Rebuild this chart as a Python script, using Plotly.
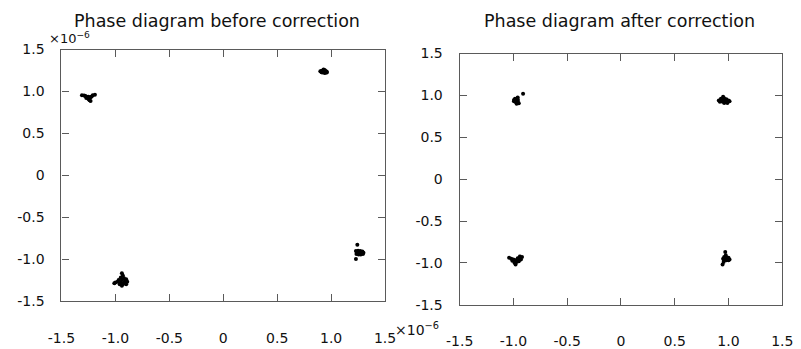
import plotly.graph_objects as go

# Constellation points before correction (units of 1e-6)
before_x = [
    # upper-left cluster
    -1.31, -1.29, -1.28, -1.27, -1.26, -1.25, -1.24, -1.23, -1.22, -1.19, -1.27, -1.25, -1.24, -1.23, -1.21,
    # upper-right cluster
    0.90, 0.91, 0.92, 0.94, 0.95, 0.96, 0.94, 0.92, 0.93, 0.95, 0.91, 0.93, 0.96,
    # lower-left cluster
    -0.94, -0.93, -0.95, -0.92, -0.90, -0.97, -0.94, -0.91, -1.00, -0.98, -0.95, -0.92, -0.89,
    -1.01, -0.96, -0.93, -0.90, -0.94,
    # lower-right cluster
    1.243, 1.23, 1.23, 1.25, 1.27, 1.29, 1.24, 1.26, 1.28, 1.30, 1.235, 1.255, 1.275, 1.295,
]
before_y = [
    0.955, 0.95, 0.945, 0.94, 0.93, 0.935, 0.92, 0.93, 0.94, 0.96, 0.92, 0.91, 0.895, 0.885, 0.955,
    1.24, 1.23, 1.25, 1.255, 1.245, 1.235, 1.22, 1.225, 1.235, 1.225, 1.245, 1.26, 1.225,
    -1.17, -1.20, -1.22, -1.23, -1.24, -1.25, -1.25, -1.26, -1.28, -1.27, -1.28, -1.28, -1.27,
    -1.29, -1.30, -1.30, -1.30, -1.32,
    -0.83, -1.00, -0.905, -0.90, -0.905, -0.91, -0.925, -0.925, -0.93, -0.925, -0.94, -0.945, -0.945, -0.94,
]

# Constellation points after correction (units of 1e-6)
after_x = [
    # upper-left cluster
    -0.91, -0.96, -0.985, -0.995, -0.975, -0.96, -0.98, -0.96, -0.97, -0.95, -0.995, -0.96,
    # upper-right cluster
    0.95, 0.93, 0.96, 0.98, 0.91, 0.94, 0.97, 1.00, 1.01, 0.92, 0.95, 0.98, 0.99, 0.96, 0.935,
    # lower-left cluster
    -1.04, -1.02, -1.00, -0.98, -0.96, -0.94, -0.92, -0.93, -0.95, -0.97, -0.99, -0.98, -1.01, -0.94, -0.96,
    # lower-right cluster
    0.97, 0.975, 0.96, 0.98, 1.00, 0.95, 0.97, 0.99, 1.01, 0.96, 0.98, 1.00, 0.945, 0.955,
]
after_y = [
    1.02, 0.975, 0.96, 0.945, 0.94, 0.95, 0.92, 0.92, 0.90, 0.905, 0.93, 0.935,
    0.985, 0.96, 0.965, 0.955, 0.94, 0.945, 0.945, 0.94, 0.93, 0.925, 0.925, 0.925, 0.91, 0.91, 0.93,
    -0.94, -0.95, -0.96, -0.97, -0.96, -0.95, -0.93, -0.96, -0.98, -0.99, -1.00, -1.02, -0.975, -0.925, -0.945,
    -0.87, -0.91, -0.93, -0.935, -0.94, -0.95, -0.955, -0.955, -0.96, -0.97, -0.97, -0.97, -1.02, -0.99,
]

tick_vals = [-1.5, -1.0, -0.5, 0, 0.5, 1.0, 1.5]
tick_text = ["-1.5", "-1.0", "-0.5", "0", "0.5", "1.0", "1.5"]

titles = ["Phase diagram before correction", "Phase diagram after correction"]

W, H = 801, 349
FONT = "DejaVu Sans"
TXT = "#111111"
LINE = "#5a5a5a"


def px_x(p):
    return p / W


def px_y(p):
    return (H - p) / H


fig = go.Figure()
marker = dict(color="black", size=4, line=dict(width=0))
fig.add_trace(go.Scatter(x=before_x, y=before_y, mode="markers", marker=marker,
                         xaxis="x", yaxis="y", showlegend=False))
fig.add_trace(go.Scatter(x=after_x, y=after_y, mode="markers", marker=marker,
                         xaxis="x2", yaxis="y2", showlegend=False))

axis_common = dict(
    range=[-1.5, 1.5], tickmode="array", tickvals=tick_vals, ticktext=tick_text,
    showline=True, linecolor=LINE, linewidth=1.2, mirror="allticks",
    ticks="inside", ticklen=7, tickwidth=1.2, tickcolor=LINE,
    showgrid=False, zeroline=False, fixedrange=True,
    tickfont=dict(family=FONT, size=14, color=TXT),
)

fig.update_layout(
    width=W, height=H,
    margin=dict(l=0, r=0, t=0, b=0),
    paper_bgcolor="white", plot_bgcolor="white",
    xaxis=dict(axis_common, domain=[px_x(49), px_x(383)], anchor="y", ticklabelstandoff=24),
    yaxis=dict(axis_common, domain=[px_y(307), px_y(43.5)], anchor="x", ticklabelstandoff=13),
    xaxis2=dict(axis_common, domain=[px_x(460), px_x(793)], anchor="y2", ticklabelstandoff=23),
    yaxis2=dict(axis_common, domain=[px_y(311), px_y(47.7)], anchor="x2", ticklabelstandoff=13),
)

annotations = [
    dict(text=titles[0], x=px_x(210), y=px_y(14)),
    dict(text=titles[1], x=px_x(624.5), y=px_y(14)),
]
for a in annotations:
    a.update(xref="paper", yref="paper", xanchor="center", yanchor="middle",
             showarrow=False, font=dict(family=FONT, size=17.5, color=TXT))

# exponent labels for the left panel's scale
exp_text = "×10<sup>−6</sup>"
annotations.append(dict(text=exp_text, x=px_x(34), y=px_y(31), xref="paper", yref="paper",
                        xanchor="left", yanchor="middle", showarrow=False,
                        font=dict(family=FONT, size=13, color=TXT)))
annotations.append(dict(text=exp_text, x=px_x(391), y=px_y(336), xref="paper", yref="paper",
                        xanchor="left", yanchor="middle", showarrow=False,
                        font=dict(family=FONT, size=14, color=TXT)))
fig.update_layout(annotations=annotations)

fig.write_html("out.html")
